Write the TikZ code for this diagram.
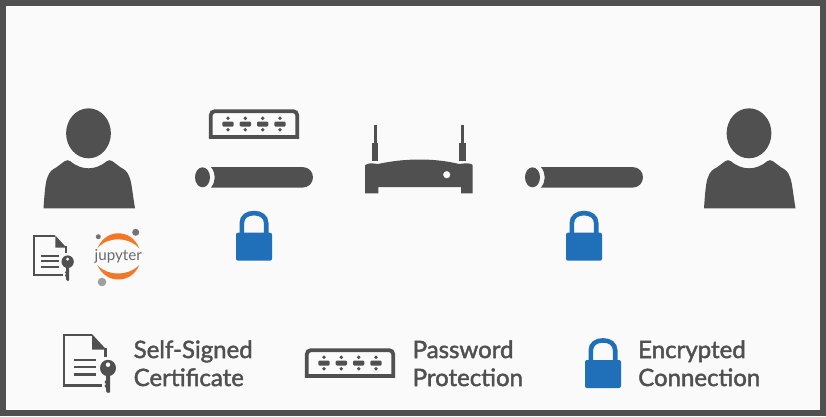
\documentclass[tikz,border=0pt]{standalone}
\usepackage{fontspec}
\setmainfont{Lato}
\newfontfamily\legendfont[FakeBold=1.8]{Lato}
\definecolor{icongray}{HTML}{505050}
\definecolor{pagegray}{HTML}{FAFAFA}
\definecolor{lockblue}{HTML}{1F70B9}
\definecolor{jupyorange}{HTML}{F37726}
\tikzset{
    legendtext/.style={text=icongray,font=\legendfont\fontsize{24}{28}\selectfont,align=left,anchor=west,inner sep=0pt},
    person/.pic={
        \fill[icongray] (0,0) circle[x radius=22.4,y radius=25];
        \fill[icongray] (-45,75) .. controls (-44,60) and (-43,48) .. (-41,44)
            .. controls (-39,38) and (-36,36) .. (-32,34) -- (-24,28) .. controls (-22,26) and (-20,27) .. (-18,28)
            .. controls (-12,33) and (-6,35) .. (0,35) .. controls (6,35) and (12,33) .. (18,28)
            .. controls (20,27) and (22,26) .. (24,28) -- (32,34) .. controls (36,36) and (39,38) .. (41,44)
            .. controls (43,48) and (44,60) .. (46.5,75) -- cycle;
    },
    padlock/.pic={
        \draw[lockblue,line width=4.6] (-12.2,1) -- (-12.2,-9.5) .. controls (-12.2,-16.2) and (-6.7,-19.6) .. (0,-19.6)
            .. controls (6.7,-19.6) and (12.2,-16.2) .. (12.2,-9.5) -- (12.2,1);
        \fill[lockblue,rounded corners=2] (-18,0) rectangle (18,28);
    },
    passbox/.pic={
        \draw[icongray,line width=3.8] (-43.2,13) [rounded corners=4] -- (-43.2,-12.8) -- (43.2,-12.8) [sharp corners] -- (43.2,13) -- cycle;
        \foreach \px in {-26,-8.7,8.7,26} {
            \fill[icongray,rounded corners=1.2] (\px-5.7,-2.5) rectangle (\px+5.7,2.5);
            \fill[icongray] (\px,-5.7) circle(1.9);
            \fill[icongray] (\px,5.7) circle(1.9);
        }
    },
    pipe/.pic={
        \fill[icongray] (7.5,0) circle[x radius=7.5,y radius=10];
        \fill[icongray] (16,-10.2) -- (108,-10.2) .. controls (113.6,-10.2) and (118,-5.6) .. (118,0)
            .. controls (118,5.6) and (113.6,10.2) .. (108,10.2) -- (16,10.2)
            .. controls (21,4) and (21,-4) .. (16,-10.2) -- cycle;
    },
    router/.pic={
        \fill[icongray] (9,0) rectangle (11.7,20);
        \fill[icongray] (7.3,18) rectangle (13.3,36);
        \fill[icongray] (96,0) rectangle (98.7,20);
        \fill[icongray] (94.3,18) rectangle (100.7,36);
        \fill[icongray,even odd rule] (0,40) .. controls (3,38) and (5,38) .. (13,39)
            .. controls (40,33) and (70,33) .. (94,39) .. controls (102,38) and (105,38) .. (107.7,40)
            -- (107.7,68.3) -- (96,68.3) -- (96,62) -- (13.3,62) -- (13.3,68.3) -- (0,68.3) -- cycle
            (81.7,49.7) circle(3.7);
    },
    certkey/.pic={
        \draw[icongray] (29,1) -- (1,1) -- (1,51.3) -- (39,51.3);
        \draw[icongray] (42.3,14) -- (42.3,23);
        \fill[icongray] (29,0) -- (43.4,15.7) -- (29,15.7) -- cycle;
        \draw[icongray] (10.7,26) -- (33.4,26) (10.7,33) -- (33.4,33) (10.7,40.7) -- (33.4,40.7);
        \fill[icongray,even odd rule] (45,34) circle[x radius=8,y radius=8.2] (45,30.7) circle(2.4);
        \fill[icongray] (43,38) -- (47,38) -- (47,58.3) -- (45,59) -- (43,57) -- (43,54) -- (41.5,52) -- (43,50) -- (41.5,48) -- (43,46) -- cycle;
    },
}
\begin{document}
\begin{tikzpicture}[x=1pt,y=-1pt]
    \useasboundingbox (0,0) rectangle (826,416);
    \fill[icongray] (0,0) rectangle (826,416);
    \fill[pagegray] (6,6) rectangle (820,410);

    \pic at (88.5,133.3) {person};
    \pic at (749,133.3) {person};
    \pic at (254,124) {passbox};
    \pic at (195,177.3) {pipe};
    \pic at (525,177.3) {pipe};
    \pic at (254,232.7) {padlock};
    \pic at (584,232.7) {padlock};
    \pic at (365,125) {router};

    % notebook server
    \pic[scale=0.77,line width=2] at (33,235.5) {certkey};
    \fill[jupyorange] (97.3,248.3) .. controls (102,238) and (110,233.3) .. (118.3,233.3)
        .. controls (127,233.3) and (135,238) .. (139.3,248.3)
        .. controls (133,242) and (126,239.3) .. (118.3,239.3)
        .. controls (110,239.3) and (103,242) .. (97.3,248.3) -- cycle;
    \fill[jupyorange] (97.3,265) .. controls (102,275) and (110,279.5) .. (118.3,279.5)
        .. controls (127,279.5) and (135,275) .. (139.3,265)
        .. controls (133,271) and (126,273.5) .. (118.3,273.5)
        .. controls (110,273.5) and (103,271) .. (97.3,265) -- cycle;
    \fill[icongray!80] (135.7,232.3) circle(3.5);
    \fill[icongray!80] (98.3,236.7) circle(2.5);
    \fill[icongray!55] (102,282) circle(4.3);
    \node[text=icongray!85,font=\fontsize{15.2}{16}\selectfont,inner sep=0pt] (jupytertext) at (118.3,256) {jupyter};

    % legend
    \pic[line width=2.6] at (63,334) {certkey};
    \pic at (350,363) {passbox};
    \pic at (603,360) {padlock};
    \node[legendtext] (certlabel) at (133.5,363.3) {Self-Signed\\Certificate};
    \node[legendtext] (passlabel) at (412.5,363.3) {Password\\Protection};
    \node[legendtext] (cryptlabel) at (638,363.3) {Encrypted\\Connection};
\end{tikzpicture}
\end{document}
